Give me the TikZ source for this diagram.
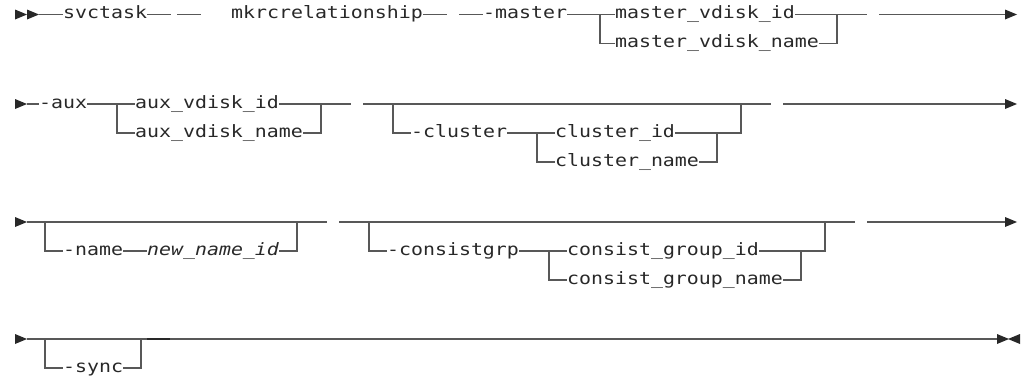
\documentclass[tikz,border=0pt]{standalone}
\usepackage{fontspec}
\newfontfamily\synfont[ItalicFont={DejaVu Sans Mono Oblique}]{DejaVu Sans Mono}
\definecolor{railgray}{RGB}{88,88,88}
\definecolor{ink}{RGB}{40,40,40}
% widen the monospaced text to the 12pt character grid of the diagram
\newcommand\sx[1]{\scalebox{1.17}[1]{#1}}
% right-pointing arrowhead whose base sits at (#1,#2)
\newcommand\railtip[2]{\fill[ink] (#1,#2-5) -- (#1+12,#2) -- (#1,#2+5) -- cycle;}
% left-pointing arrowhead whose base sits at (#1,#2)
\newcommand\railstop[2]{\fill[ink] (#1,#2-5) -- (#1-12,#2) -- (#1,#2+5) -- cycle;}
\begin{document}
\begin{tikzpicture}[x=1pt,y=-1pt,
  rail/.style={draw=railgray,line width=1.3pt},
  kw/.style={inner sep=0pt,anchor=west,text height=8.4pt,text depth=0pt,
    text=ink,font=\synfont\fontsize{17}{20}\selectfont},
  var/.style={kw,font=\synfont\itshape\fontsize{17}{20}\selectfont}]
\useasboundingbox (0,0) rectangle (1024,381);

% ---------- line 1: svctask mkrcrelationship -master ----------
\railtip{15}{14.5}
\railtip{27}{14.5}
\coordinate (a1) at (39,14.5);
\node[kw] (svctask) at (63,14.5) {\sx{svctask}};
\coordinate (s1a) at (171,14.5);
\coordinate (s1b) at (177,14.5);
\coordinate (s1c) at (201,14.5);
\node[kw] (mkr) at (231,14.5) {\sx{mkrcrelationship}};
\coordinate (s1d) at (447,14.5);
\coordinate (s1e) at (459,14.5);
\node[kw] (master) at (483,14.5) {\sx{-master}};
\node[kw] (mvid) at (615,14.5) {\sx{master\_vdisk\_id}};
\node[kw] (mvname) at (615,43.5) {\sx{master\_vdisk\_name}};
\coordinate (j1a) at (600,14.5);
\coordinate (j1b) at (837,14.5);
\coordinate (s1f) at (867,14.5);
\coordinate (s1g) at (879,14.5);
\coordinate (e1) at (1005,14.5);
\draw[rail] (a1) -- (svctask.west);
\draw[rail] (svctask.east) -- (s1a);
\draw[rail] (s1b) -- (s1c);
\draw[rail] (mkr.east) -- (s1d);
\draw[rail] (s1e) -- (master.west);
\draw[rail] (master.east) -- (mvid.west);
\draw[rail] (j1a) |- (mvname.west);
\draw[rail] (mvid.east) -- (j1b);
\draw[rail] (mvname.east) -| (j1b) -- (s1f);
\draw[rail] (s1g) -- (e1);
\railtip{1005}{14.5}

% ---------- line 2: -aux, optional -cluster ----------
\railtip{15}{104}
\coordinate (a2) at (27,104);
\node[kw] (aux) at (39,104) {\sx{-aux}};
\node[kw] (avid) at (135,104) {\sx{aux\_vdisk\_id}};
\node[kw] (avname) at (135,133) {\sx{aux\_vdisk\_name}};
\coordinate (j2a) at (117,104);
\coordinate (j2b) at (321,104);
\coordinate (s2a) at (351,104);
\coordinate (s2b) at (363,104);
\coordinate (j2c) at (393,104);
\node[kw] (cluster) at (411,133) {\sx{-cluster}};
\node[kw] (cid) at (555,133) {\sx{cluster\_id}};
\node[kw] (cname) at (555,162) {\sx{cluster\_name}};
\coordinate (j2d) at (537,133);
\coordinate (j2e) at (717,133);
\coordinate (j2f) at (741,104);
\coordinate (s2c) at (771,104);
\coordinate (s2d) at (783,104);
\coordinate (e2) at (1005,104);
\draw[rail] (a2) -- (aux.west);
\draw[rail] (aux.east) -- (avid.west);
\draw[rail] (j2a) |- (avname.west);
\draw[rail] (avid.east) -- (j2b);
\draw[rail] (avname.east) -| (j2b) -- (s2a);
\draw[rail] (s2b) -- (s2c);
\draw[rail] (j2c) |- (cluster.west);
\draw[rail] (cluster.east) -- (cid.west);
\draw[rail] (j2d) |- (cname.west);
\draw[rail] (cid.east) -- (j2e);
\draw[rail] (cname.east) -| (j2e) -| (j2f);
\draw[rail] (s2d) -- (e2);
\railtip{1005}{104}

% ---------- line 3: optional -name, optional -consistgrp ----------
\railtip{15}{222}
\coordinate (a3) at (27,222);
\coordinate (j3a) at (45,222);
\node[kw] (name) at (63,251) {\sx{-name}};
\node[var] (newname) at (147,251) {\sx{new\_name\_id}};
\coordinate (j3b) at (297,222);
\coordinate (s3a) at (327,222);
\coordinate (s3b) at (339,222);
\coordinate (j3c) at (369,222);
\node[kw] (consist) at (387,251) {\sx{-consistgrp}};
\node[kw] (cgid) at (567,251) {\sx{consist\_group\_id}};
\node[kw] (cgname) at (567,280) {\sx{consist\_group\_name}};
\coordinate (j3d) at (549,251);
\coordinate (j3e) at (801,251);
\coordinate (j3f) at (825,222);
\coordinate (s3c) at (855,222);
\coordinate (s3d) at (867,222);
\coordinate (e3) at (1005,222);
\draw[rail] (a3) -- (s3a);
\draw[rail] (j3a) |- (name.west);
\draw[rail] (name.east) -- (newname.west);
\draw[rail] (newname.east) -| (j3b);
\draw[rail] (s3b) -- (s3c);
\draw[rail] (j3c) |- (consist.west);
\draw[rail] (consist.east) -- (cgid.west);
\draw[rail] (j3d) |- (cgname.west);
\draw[rail] (cgid.east) -- (j3e);
\draw[rail] (cgname.east) -| (j3e) -| (j3f);
\draw[rail] (s3d) -- (e3);
\railtip{1005}{222}

% ---------- line 4: optional -sync, end of statement ----------
\railtip{15}{339}
\coordinate (a4) at (27,339);
\coordinate (j4a) at (45,339);
\node[kw] (sync) at (63,368) {\sx{-sync}};
\coordinate (j4b) at (141,339);
\coordinate (k4a) at (147,339);
\coordinate (k4b) at (170,339);
\coordinate (e4) at (997,339);
\draw[rail] (a4) -- (e4);
\draw[rail] (j4a) |- (sync.west);
\draw[rail] (sync.east) -| (j4b);
\draw[draw=ink,line width=1.8pt] (k4a) -- (k4b);
\railtip{997}{339}
\railstop{1020}{339}
\end{tikzpicture}
\end{document}
